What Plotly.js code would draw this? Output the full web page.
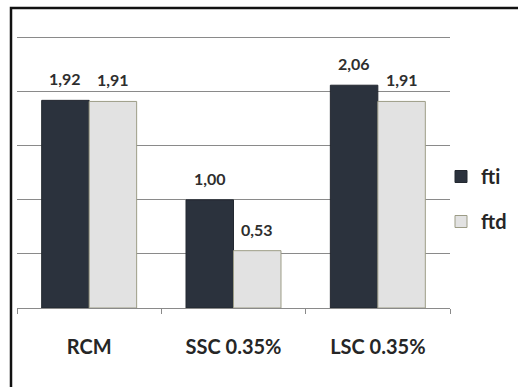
<!DOCTYPE html>
<html>
<head>
<meta charset="utf-8">
<script src="https://cdn.plot.ly/plotly-3.0.1.min.js"></script>
<style>
html,body{margin:0;padding:0;background:#fff;}
#chart{width:518px;height:387px;}
</style>
</head>
<body>
<div id="chart"></div>
<script>
var categories = ["RCM", "SSC 0.35%", "LSC 0.35%"];
var ftiValues = [1.92, 1.00, 2.06];
var ftdValues = [1.91, 0.53, 1.91];
var seriesNames = ["fti", "ftd"];

function fmt(v){ return v.toFixed(2).replace('.', ','); }

var W = 518, H = 387, L = 17, R = 68, T = 36, B = 79;
var pw = W - L - R, ph = H - T - B;
function px2x(p){ return (p - L) / pw; }
function py2y(p){ return (H - B - p) / ph; }

var traces = [
  {type:'bar', name:seriesNames[0], x:categories, y:ftiValues, legendgroup:'a',
   marker:{color:'#2b323d', line:{color:'#232830', width:1}}, hoverinfo:'none'},
  {type:'bar', name:seriesNames[1], x:categories, y:ftdValues, legendgroup:'b',
   marker:{color:'#e2e2e2', line:{color:'#9c9c86', width:1}}, hoverinfo:'none'}
];

var barHalf = pw / categories.length * (1 - 0.342) / 4;
var annotations = [];
var allVals = [ftiValues, ftdValues];
allVals.forEach(function(vals, s){
  vals.forEach(function(v, i){
    annotations.push({x:categories[i], y:v, xref:'x', yref:'y', text:fmt(v),
      showarrow:false, yanchor:'bottom', xanchor:'center',
      xshift:(s === 0 ? -barHalf : barHalf), yshift:10,
      font:{family:'Lato, sans-serif', size:16, color:'#2e2e2e', weight:'bold'}});
  });
});

var layout = {
  width:W, height:H,
  margin:{l:L, r:R, t:T, b:B, pad:0, autoexpand:false},
  paper_bgcolor:'#ffffff', plot_bgcolor:'#ffffff',
  barmode:'group', bargap:0.342, bargroupgap:0,
  showlegend:true,
  legend:{x:px2x(441), y:py2y(199), xanchor:'left', yanchor:'middle',
    xref:'paper', yref:'paper', traceorder:'grouped', tracegroupgap:16,
    font:{family:'Lato, sans-serif', size:20, color:'#262626', weight:'bold'},
    bgcolor:'rgba(0,0,0,0)', borderwidth:0},
  xaxis:{type:'category', showline:true, linecolor:'#8a8a8a', linewidth:1,
    ticks:'outside', tickson:'boundaries', ticklen:5, tickcolor:'#8a8a8a',
    ticklabelstandoff:21, showgrid:false, fixedrange:true, automargin:false,
    tickfont:{family:'Lato, sans-serif', size:20, color:'#262626', weight:'bold'}},
  yaxis:{range:[0, 2.515], dtick:0.5, tick0:0, showticklabels:false, ticks:'',
    showgrid:true, gridcolor:'#8a8a8a', gridwidth:1, zeroline:false, showline:false,
    fixedrange:true, automargin:false},
  annotations:annotations,
  shapes:[
    {type:'path', xref:'paper', yref:'paper', layer:'above',
     path:'M' + px2x(11) + ',' + py2y(400) + ' L' + px2x(11) + ',' + py2y(8) + ' L' + px2x(530) + ',' + py2y(8),
     line:{color:'#111111', width:2.5}}
  ]
};

Plotly.newPlot('chart', traces, layout, {displayModeBar:false, staticPlot:true});
</script>
</body>
</html>
